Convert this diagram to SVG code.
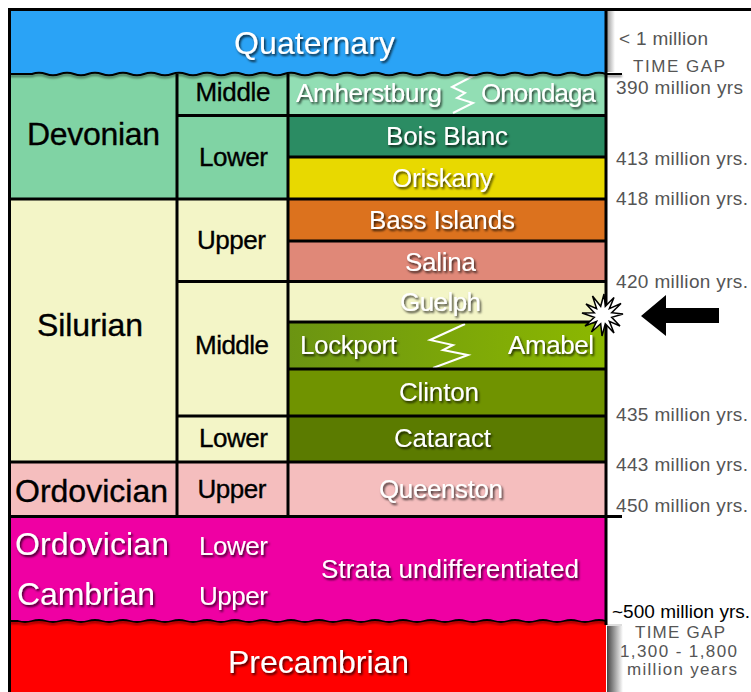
<svg xmlns="http://www.w3.org/2000/svg" width="751" height="692" viewBox="0 0 751 692">
<style>
text{font-family:"Liberation Sans",Arial,sans-serif}
.big{font-size:32px}
.mid{font-size:26px}
.yr{font-size:19px;fill:#555}
.sm{font-size:17px}
.w{fill:#fff;filter:url(#sh)}
.k{fill:#000;stroke:#000;stroke-width:0.35}
.c{text-anchor:middle}
.grid{stroke:#000;stroke-width:3;fill:none}
.zz{stroke:#fff;stroke-width:2;fill:none;stroke-linejoin:miter}
</style>
<defs>
<filter id="sh" x="-10%" y="-30%" width="130%" height="170%"><feDropShadow dx="1.5" dy="2" stdDeviation="1.2" flood-color="#000" flood-opacity="0.75"/></filter>
<filter id="lsh" x="-5%" y="-100%" width="110%" height="400%"><feDropShadow dx="0" dy="2" stdDeviation="1.2" flood-color="#000" flood-opacity="0.5"/></filter>
<linearGradient id="lg" x1="0" y1="0" x2="1" y2="0"><stop offset="0" stop-color="#6b9412"/><stop offset="1" stop-color="#8cb800"/></linearGradient>
<linearGradient id="sh1" x1="0" y1="0" x2="1" y2="0"><stop offset="0" stop-color="#999"/><stop offset="1" stop-color="#fff"/></linearGradient>
<linearGradient id="sh2" x1="0" y1="0" x2="1" y2="0"><stop offset="0" stop-color="#444"/><stop offset="1" stop-color="#fff"/></linearGradient>
</defs>
<rect width="751" height="692" fill="#fff"/>
<rect x="607" y="10" width="8" height="62" fill="url(#sh1)"/>
<rect x="607" y="626" width="16" height="66" fill="url(#sh2)"/>
<line x1="607" y1="625" x2="622" y2="625" stroke="#bbb" stroke-width="1"/>

<g id="devonian">
<rect x="10" y="70" width="278" height="129" fill="#80d3a4"/>
<text class="big k c" x="93.5" y="145" textLength="133" lengthAdjust="spacing">Devonian</text>
<text class="mid k c" x="233" y="101" textLength="75" lengthAdjust="spacing">Middle</text>
<text class="mid k c" x="233.5" y="166" textLength="69" lengthAdjust="spacing">Lower</text>
</g>
<g id="amherstburg">
<rect x="288" y="70" width="318" height="45" fill="#92deb4"/>
<polyline class="zz" points="475,75 452,87 465,93 457,98 473,103 453,113"/>
<text class="mid w" x="296" y="102" textLength="146" lengthAdjust="spacing">Amherstburg</text>
<text class="mid w" x="481" y="102" textLength="115" lengthAdjust="spacing">Onondaga</text>
</g>
<g id="bois-blanc"><rect x="288" y="115" width="318" height="42" fill="#2b8c63"/><text class="mid w c" x="447" y="145" textLength="122" lengthAdjust="spacing">Bois Blanc</text></g>
<g id="oriskany"><rect x="288" y="157" width="318" height="42" fill="#e8d900"/><text class="mid w c" x="442.5" y="187" textLength="101" lengthAdjust="spacing">Oriskany</text></g>
<g id="silurian">
<rect x="10" y="199" width="278" height="263" fill="#f3f5c7"/>
<text class="big k c" x="90" y="336" textLength="106" lengthAdjust="spacing">Silurian</text>
<text class="mid k c" x="231.5" y="249" textLength="69" lengthAdjust="spacing">Upper</text>
<text class="mid k c" x="232" y="354" textLength="74" lengthAdjust="spacing">Middle</text>
<text class="mid k c" x="233.5" y="447" textLength="69" lengthAdjust="spacing">Lower</text>
</g>
<g id="bass-islands"><rect x="288" y="199" width="318" height="42" fill="#dc721e"/><text class="mid w c" x="442" y="229" textLength="146" lengthAdjust="spacing">Bass Islands</text></g>
<g id="salina"><rect x="288" y="241" width="318" height="41" fill="#e08878"/><text class="mid w c" x="440.5" y="271" textLength="71" lengthAdjust="spacing">Salina</text></g>
<g id="guelph"><rect x="288" y="281" width="318" height="41" fill="#f3f5c7"/><text class="mid w c" x="440.5" y="311" textLength="81" lengthAdjust="spacing">Guelph</text></g>
<g id="lockport">
<rect x="288" y="322" width="318" height="47" fill="url(#lg)"/>
<polyline class="zz" points="465,324 430,340 453,345 443,350 468,355 433,368"/>
<text class="mid w" x="300" y="354" textLength="97" lengthAdjust="spacing">Lockport</text>
<text class="mid w" x="508" y="354" textLength="86" lengthAdjust="spacing">Amabel</text>
</g>
<g id="clinton"><rect x="288" y="369" width="318" height="47" fill="#709300"/><text class="mid w c" x="439" y="401" textLength="80" lengthAdjust="spacing">Clinton</text></g>
<g id="cataract"><rect x="288" y="416" width="318" height="46" fill="#5b7b00"/><text class="mid w c" x="442.5" y="447" textLength="97" lengthAdjust="spacing">Cataract</text></g>
<g id="ordovician-upper">
<rect x="10" y="462" width="596" height="54" fill="#f5bebe"/>
<text class="big k c" x="91.5" y="502" textLength="153" lengthAdjust="spacing">Ordovician</text>
<text class="mid k c" x="232" y="498" textLength="69" lengthAdjust="spacing">Upper</text>
<text class="mid w c" x="441" y="498" textLength="124" lengthAdjust="spacing">Queenston</text>
</g>
<g id="undifferentiated">
<rect x="10" y="516" width="596" height="108" fill="#ef00a3"/>
<text class="big w c" x="92" y="555" textLength="154" lengthAdjust="spacing">Ordovician</text>
<text class="big w c" x="86" y="605" textLength="138" lengthAdjust="spacing">Cambrian</text>
<text class="mid w c" x="233.5" y="555" textLength="69" lengthAdjust="spacing">Lower</text>
<text class="mid w c" x="233.5" y="605" textLength="69" lengthAdjust="spacing">Upper</text>
<text class="mid w c" x="450" y="578" textLength="258" lengthAdjust="spacing">Strata undifferentiated</text>
</g>
<g id="precambrian">
<path fill="#ff0000" d="M10,692 V621 L18,621 q7,2 14,0 t14,0 t14,0 t14,0 t14,0 t14,0 t14,0 t14,0 t14,0 t14,0 t14,0 t14,0 t14,0 t14,0 t14,0 t14,0 t14,0 t14,0 t14,0 t14,0 t14,0 t14,0 t14,0 t14,0 t14,0 t14,0 t14,0 t14,0 t14,0 t14,0 t14,0 t14,0 t14,0 t14,0 t14,0 t14,0 t14,0 t14,0 t14,0 t14,0 t14,0 t14,0 V692 Z"/>
<path fill="none" stroke="#000" stroke-width="1.8" filter="url(#lsh)" d="M10,621 L18,621 q7,2 14,0 t14,0 t14,0 t14,0 t14,0 t14,0 t14,0 t14,0 t14,0 t14,0 t14,0 t14,0 t14,0 t14,0 t14,0 t14,0 t14,0 t14,0 t14,0 t14,0 t14,0 t14,0 t14,0 t14,0 t14,0 t14,0 t14,0 t14,0 t14,0 t14,0 t14,0 t14,0 t14,0 t14,0 t14,0 t14,0 t14,0 t14,0 t14,0 t14,0 t14,0 t14,0"/>
<text class="big w c" x="318.5" y="673" textLength="181" lengthAdjust="spacing">Precambrian</text>
</g>

<g id="grid" class="grid">
<path d="M177,115.5 H606 M288,157 H606 M10,199 H606 M288,241 H606 M177,281.5 H606 M288,322 H606 M288,369 H606 M177,416 H606 M10,462 H606 M10,516.5 H622 M177,74 V516 M288,74 V516"/>
</g>

<g id="quaternary">
<path fill="#2aa3f6" d="M10,10 H606 V74 q-7,-2.5 -14,0 t-14,0 t-14,0 t-14,0 t-14,0 t-14,0 t-14,0 t-14,0 t-14,0 t-14,0 t-14,0 t-14,0 t-14,0 t-14,0 t-14,0 t-14,0 t-14,0 t-14,0 t-14,0 t-14,0 t-14,0 t-14,0 t-14,0 t-14,0 t-14,0 t-14,0 t-14,0 t-14,0 t-14,0 t-14,0 t-14,0 t-14,0 t-14,0 t-14,0 t-14,0 t-14,0 t-14,0 t-14,0 t-14,0 t-14,0 t-14,0 L10,74 Z"/>
<path fill="none" stroke="#000" stroke-width="2" filter="url(#lsh)" d="M622,74 H606 q-7,-2.5 -14,0 t-14,0 t-14,0 t-14,0 t-14,0 t-14,0 t-14,0 t-14,0 t-14,0 t-14,0 t-14,0 t-14,0 t-14,0 t-14,0 t-14,0 t-14,0 t-14,0 t-14,0 t-14,0 t-14,0 t-14,0 t-14,0 t-14,0 t-14,0 t-14,0 t-14,0 t-14,0 t-14,0 t-14,0 t-14,0 t-14,0 t-14,0 t-14,0 t-14,0 t-14,0 t-14,0 t-14,0 t-14,0 t-14,0 t-14,0 t-14,0 L10,74"/>
<text class="big w c" x="314.5" y="54" textLength="161" lengthAdjust="spacing">Quaternary</text>
</g>

<g id="frame" class="grid">
<path d="M9.5,8 V692 M8,9.5 H751 M606,8 V625"/>
</g>

<g id="ages">
<text class="yr" x="619" y="45" textLength="89" lengthAdjust="spacing">&lt; 1 million</text>
<text class="yr sm" x="633" y="72" textLength="92" lengthAdjust="spacing">TIME GAP</text>
<text class="yr" x="616" y="93.5" textLength="127" lengthAdjust="spacing">390 million yrs</text>
<text class="yr" x="616" y="165" textLength="132" lengthAdjust="spacing">413 million yrs.</text>
<text class="yr" x="616" y="205" textLength="132" lengthAdjust="spacing">418 million yrs.</text>
<text class="yr" x="616" y="288" textLength="132" lengthAdjust="spacing">420 million yrs.</text>
<text class="yr" x="616" y="421" textLength="132" lengthAdjust="spacing">435 million yrs.</text>
<text class="yr" x="616" y="471" textLength="132" lengthAdjust="spacing">443 million yrs.</text>
<text class="yr" x="616" y="512" textLength="132" lengthAdjust="spacing">450 million yrs.</text>
<text class="yr" x="612" y="618" textLength="138" lengthAdjust="spacing" style="fill:#000">~500 million yrs.</text>
<text class="yr sm" x="635" y="638" textLength="90" lengthAdjust="spacing">TIME GAP</text>
<text class="yr sm" x="620" y="657" textLength="117" lengthAdjust="spacing">1,300 - 1,800</text>
<text class="yr sm" x="627" y="675" textLength="110" lengthAdjust="spacing">million years</text>
</g>

<g id="marker">
<polygon fill="#fff" stroke="#000" stroke-width="1.5" points="623,314 611.7,317.3 620,326 609.4,321.4 614,333 605.3,323.7 602,336 600.7,323.7 591.5,332 596.6,321.4 585,326 594.3,317.3 582,313 594.3,312.7 586,304 596.6,308.6 592.5,296 600.7,306.3 604,294 605.3,306.3 614,297.5 609.4,308.6 621,303.5 611.7,312.7"/>
<polygon fill="#000" points="641,316 666,295 666,308 719,308 719,323 666,323 666,336"/>
</g>
</svg>
